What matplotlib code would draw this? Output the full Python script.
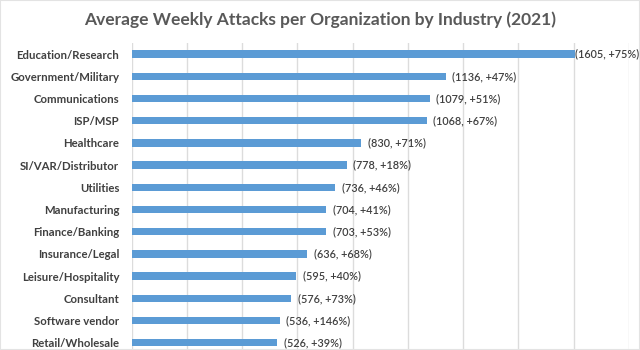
import matplotlib
matplotlib.use("Agg")
import matplotlib.pyplot as plt
import matplotlib.patches as mpatches
import numpy as np

industries = [
    "Education/Research", "Government/Military", "Communications", "ISP/MSP",
    "Healthcare", "SI/VAR/Distributor", "Utilities", "Manufacturing",
    "Finance/Banking", "Insurance/Legal", "Leisure/Hospitality", "Consultant",
    "Software vendor", "Retail/Wholesale",
]
attacks = [1605, 1136, 1079, 1068, 830, 778, 736, 704, 703, 636, 595, 576, 536, 526]
growth = ["+75%", "+47%", "+51%", "+67%", "+71%", "+18%", "+46%", "+41%",
          "+53%", "+68%", "+40%", "+73%", "+146%", "+39%"]
x_ticks = [0, 200, 400, 600, 800, 1000, 1200, 1400, 1600, 1800]

BAR = "#5B9BD5"
TXT = "#404040"

plt.rcParams["font.family"] = ["Lato", "DejaVu Sans"]

fig = plt.figure(figsize=(6.4, 3.5), dpi=100)
fig.patch.set_facecolor("white")

# plot area runs a little past the bottom edge, like the cropped original
ax = fig.add_axes([131.7 / 640, 1 - 353.8 / 350, (629 - 131.7) / 640, (353.8 - 43) / 350])
ax.set_facecolor("white")

y = np.arange(len(industries))
ax.barh(y, attacks, height=0.34, color=BAR, zorder=3)

for yi, v, g in zip(y, attacks, growth):
    # the longest label sits tight against its bar so it stays inside the frame
    pad = 0.2 if v == max(attacks) else 4.8
    ax.annotate(f"({v}, {g})", xy=(v, yi), xytext=(pad, 0), textcoords="offset points",
                va="center", ha="left", fontsize=7.8, color=TXT,
                fontweight="semibold", zorder=4)

ax.set_xlim(0, 1800)
ax.set_ylim(len(industries) - 0.5, -0.5)
ax.set_xticks(x_ticks)
ax.tick_params(axis="x", length=0, labelbottom=False)
ax.grid(axis="x", color="#DCDCDC", linewidth=1, zorder=0)

ax.set_yticks(y)
ax.set_yticklabels(industries, fontsize=8.2, fontweight="bold", color=TXT)
ax.tick_params(axis="y", length=0, pad=9)
for s in ax.spines.values():
    s.set_visible(False)

fig.text(0.5, 1 - 20 / 350, "Average Weekly Attacks per Organization by Industry (2021)",
         ha="center", va="center", fontsize=12.5, fontweight="bold", color="#595959")

# faint frame around the picture
fig.patches.append(mpatches.Rectangle((0, 0), 1, 1, transform=fig.transFigure,
                                      fill=False, edgecolor="#E3E3E3", linewidth=1.5))

fig.savefig("out.png", dpi=100, facecolor="white")
